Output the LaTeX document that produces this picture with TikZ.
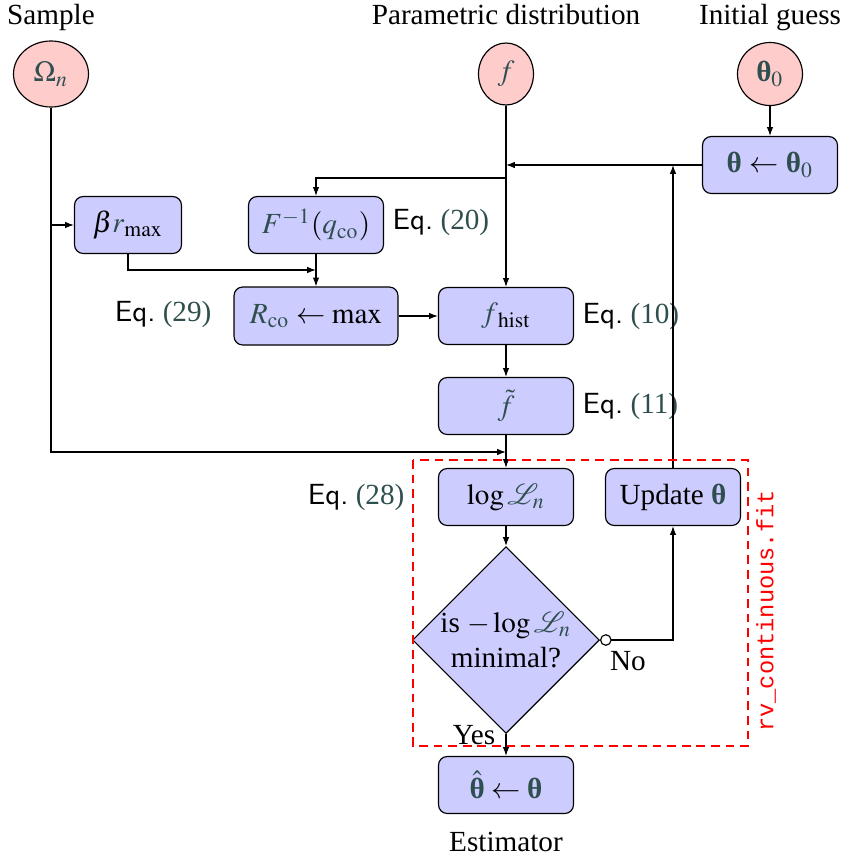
\documentclass[tikz,border=0pt]{standalone}
\usepackage{mathptmx}
\usepackage{fontspec}
\setmainfont{Liberation Serif}
\setmonofont{Liberation Mono}
\usetikzlibrary{shapes.geometric,arrows.meta}
\definecolor{mc}{RGB}{47,79,79}
\definecolor{boxfill}{RGB}{204,204,255}
\definecolor{infill}{RGB}{255,204,204}
\def\pxu{0.3425pt}
\newcommand{\tc}[1]{\textcolor{mc}{#1}}
\newcommand{\bth}{\textbf{θ}}
\newcommand{\eqlab}[1]{{\sffamily Eq.}\ \tc{(#1)}}
\begin{document}
\begin{tikzpicture}[x=0.3425pt,y=-0.3425pt,
  box/.style={draw, rounded corners=3pt, fill=boxfill, minimum width={135*\pxu}, minimum height={57*\pxu}, inner sep=0pt},
  inp/.style={draw, ellipse, fill=infill, inner sep=0pt},
  arr/.style={-{Latex[length=3pt,width=2.2pt]}},
  lab/.style={inner sep=0pt},
  ttl/.style={inner sep=0pt, anchor=base}]
\useasboundingbox (0,0) rectangle (844,860);

% titles
\node[ttl] (tS) at (51,24) {Sample};
\node[ttl] (tP) at (506,24) {Parametric distribution};
\node[ttl] (tI) at (770,24) {Initial guess};

% inputs
\node[inp, minimum width={75*\pxu}, minimum height={66*\pxu}] (om) at (51,74) {\tc{$\Omega_n$}};
\node[inp, minimum width={55*\pxu}, minimum height={62*\pxu}] (f) at (506,74) {\tc{$f$}};
\node[inp, minimum width={65*\pxu}, minimum height={63*\pxu}] (th0) at (770,74) {\tc{\bth$_0$}};

% boxes
\node[box] (thb) at (770,165) {\tc{\bth} $\leftarrow$ \tc{\bth$_0$}};
\node[box, minimum width={107*\pxu}] (br) at (128,225) {$\beta\tc{r}_{\max}$};
\node[box] (Finv) at (316,225) {$\tc{F^{-1}}(\tc{q_{\mathrm{co}}})$};
\node[box, minimum width={164*\pxu}, minimum height={58*\pxu}] (Rco) at (316,316) {$\tc{R_{\mathrm{co}}} \leftarrow \max$};
\node[box] (fh) at (506,316) {$\tc{f}_{\mathrm{hist}}$};
\node[box] (ftil) at (506,406) {$\tc{\tilde f}$};
\node[box] (logL) at (506,497) {$\log\tc{\mathcal{L}_n}$};
\node[box] (upd) at (673,497) {Update \tc{\bth}};
\node[draw, diamond, fill=boxfill, inner sep=0pt, minimum width={186*\pxu}, minimum height={185*\pxu}, align=center] (dia) at (506,640) {is $-\log\tc{\mathcal{L}_n}$\\minimal?};
\node[box] (est) at (506,785) {$\tc{\hat{\mbox{\bfseries θ}}}\leftarrow\tc{\mbox{\bfseries θ}}$};
\node[ttl] (tE) at (506,851) {Estimator};

% equation labels
\node[lab, anchor=west] (e20) at (392,222) {\eqlab{20}};
\node[lab, anchor=east] (e29) at (212,314) {\eqlab{29}};
\node[lab, anchor=west] (e10) at (582,316) {\eqlab{10}};
\node[lab, anchor=west] (e11) at (582,406) {\eqlab{11}};
\node[lab, anchor=east] (e28) at (405,497) {\eqlab{28}};

% helper coordinates
\coordinate (jB) at (506,178);
\coordinate (jC) at (316,270);
\coordinate (jD) at (506,452);

% connectors
\draw[arr] (th0) -- (thb);
\draw[arr] (thb.west) -- (f.south |- thb.west);
\draw[arr] (upd.north) -- (upd.north |- thb.west);
\draw[arr] (f) -- (fh);
\draw[arr] (jB) -| (Finv.north);
\draw[arr] (br.south) |- (jC);
\draw[arr] (Finv) -- (Rco);
\draw[arr] (Rco) -- (fh);
\draw[arr] (fh) -- (ftil);
\draw[arr] (ftil) -- (logL);
\draw[arr] (om.south) |- (jD);
\draw[arr] (om.south |- br.west) -- (br.west);
\draw[arr] (logL) -- (dia);
\draw[arr] (dia) -- (est);
\draw[{Circle[open,length=4pt,width=4pt]}-{Latex[length=3pt,width=2.2pt]}] (dia.east) -| (upd.south);
\node[lab] (no) at (628,661) {No};
\node[lab] (yes) at (474,735) {Yes};

% dashed region
\draw[red, dashed, dash pattern=on 3pt off 2pt] (413,460) rectangle (748,746);
\node[rotate=90, text=red, font=\ttfamily\fontsize{8.1}{10}\selectfont, inner sep=0pt] (rv) at (766,611) {rv\_continuous.fit};
\end{tikzpicture}
\end{document}
